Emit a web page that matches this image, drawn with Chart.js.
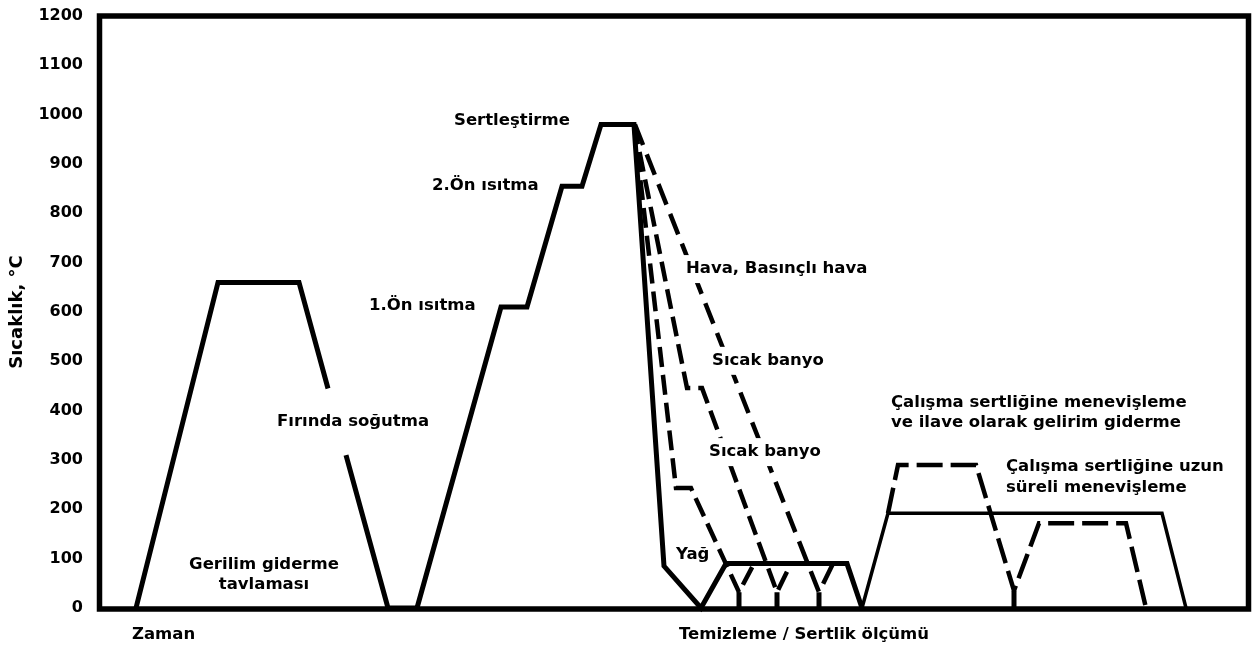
<!DOCTYPE html>
<html>
<head>
<meta charset="utf-8">
<script src="https://cdn.jsdelivr.net/npm/chart.js@4"></script>
<style>
  html, body { margin: 0; padding: 0; background: #fff; }
  #wrap { width: 1252px; height: 647px; }
</style>
</head>
<body>
<div id="wrap"><canvas id="myCanvas"></canvas></div>
<script>
// temperature axis ticks
const yTicks = [0, 100, 200, 300, 400, 500, 600, 700, 800, 900, 1000, 1100, 1200];

// stress relief anneal (time, °C)
const reliefX = [37, 119, 200, 229];
const reliefY = [0, 660, 660, 445];
const furnaceX = [247, 289, 318];
const furnaceY = [310, 0, 0];

// preheats + hardening + oil quench + cleaning + long tempering (solid)
const hardenX = [318, 402, 428, 463, 483, 502, 535, 565, 602, 627, 748, 763];
const hardenY = [0, 610, 610, 855, 855, 980, 980, 85, 0, 90, 90, 0];
const temperX = [763, 789, 1063, 1087];
const temperY = [0, 192, 192, 0];

// hot bath quenches (dashed)
const bathLowX = [535, 577, 592, 640, 655];
const bathLowY = [980, 243, 243, 32, 90];
const bathHighX = [535, 588, 603, 678, 692];
const bathHighY = [980, 446, 446, 32, 90];
// air / pressurised air (dashed)
const airX = [536, 720, 734];
const airY = [980, 32, 90];

// tempering + extra stress relief (dashed)
const temper2X = [789, 799, 877, 915, 940, 1027, 1047];
const temper2Y = [192, 290, 290, 35, 172, 172, 0];

// short solid stems where quench meets room temperature
const stemX = [640, 640, null, 678, 678, null, 720, 720, null, 915, 915];
const stemY = [32, 0, null, 32, 0, null, 32, 0, null, 35, 0];

function pts(xs, ys) {
  return xs.map(function(x, i) { return {x: x, y: ys[i]}; });
}

// text notes; knock = white box behind it (breaks the lines like the original)
const labels = [
  {t: 'Sertleştirme', x: 355, y: 987},
  {t: '2.Ön ısıtma', x: 333, y: 855},
  {t: '1.Ön ısıtma', x: 270, y: 612},
  {t: 'Fırında soğutma', x: 178, y: 377},
  {t: 'Gerilim giderme', x: 165, y: 87, c: true},
  {t: 'tavlaması', x: 165, y: 47, c: true},
  {t: 'Hava, Basınçlı hava', x: 587, y: 687, knock: true},
  {t: 'Sıcak banyo', x: 613, y: 501, knock: true},
  {t: 'Sıcak banyo', x: 610, y: 316, knock: true},
  {t: 'Yağ', x: 577, y: 107},
  {t: 'Çalışma sertliğine menevişleme', x: 792, y: 416},
  {t: 've ilave olarak gelirim giderme', x: 792, y: 375},
  {t: 'Çalışma sertliğine uzun', x: 907, y: 286},
  {t: 'süreli menevişleme', x: 907, y: 243},
  {t: 'Zaman', x: 33, y: -55},
  {t: 'Temizleme / Sertlik ölçümü', x: 580, y: -55}
];

function solid(xs, ys, w) {
  return {data: pts(xs, ys), borderColor: '#000', borderWidth: w, pointRadius: 0,
    tension: 0, borderJoinStyle: 'miter', clip: false, spanGaps: false};
}
function dashed(xs, ys, w, dash) {
  let d = solid(xs, ys, w);
  d.borderDash = dash;
  return d;
}

// frame + text annotations
const decor = {
  id: 'decor',
  afterDatasetsDraw(chart) {
    const ctx = chart.ctx, a = chart.chartArea;
    const xs = chart.scales.x, ys = chart.scales.y;
    ctx.save();
    ctx.strokeStyle = '#000';
    ctx.lineWidth = 5.5;
    ctx.strokeRect(a.left + 0.5, a.top, a.right - a.left, a.bottom - a.top + 1);
    ctx.font = "bold 16.5px 'DejaVu Sans'";
    ctx.textBaseline = 'middle';
    labels.forEach(function(l) {
      const px = xs.getPixelForValue(l.x), py = ys.getPixelForValue(l.y);
      ctx.textAlign = l.c ? 'center' : 'left';
      if (l.knock) {
        const w = ctx.measureText(l.t).width;
        ctx.fillStyle = '#fff';
        ctx.fillRect(px - 6, py - 14, w + 12, 28);
      }
      ctx.fillStyle = '#000';
      ctx.fillText(l.t, px, py);
    });
    ctx.restore();
  }
};

const chrt = document.getElementById('myCanvas');
const myChart = new Chart(chrt, {
  type: 'line',
  data: {
    datasets: [
      solid(reliefX, reliefY, 5),
      solid(furnaceX, furnaceY, 5),
      solid(hardenX, hardenY, 5),
      solid(temperX, temperY, 3.5),
      dashed(bathLowX, bathLowY, 4.5, [20, 8]),
      dashed(bathHighX, bathHighY, 4.5, [20, 8]),
      dashed(airX, airY, 4.5, [22, 10]),
      dashed(temper2X, temper2Y, 4.5, [26, 8]),
      solid(stemX, stemY, 5)
    ]
  },
  options: {
    responsive: true,
    maintainAspectRatio: false,
    animation: false,
    layout: {padding: {top: 16, right: 4, bottom: 39, left: 0}},
    plugins: {legend: {display: false}, tooltip: {enabled: false}},
    scales: {
      x: {type: 'linear', min: 0, max: 1149, display: false},
      y: {
        min: 0, max: 1200,
        afterBuildTicks: function(s) { s.ticks = yTicks.map(function(v) { return {value: v}; }); },
        afterFit: function(s) { s.width = 99; },
        // tick marks hidden, but their length keeps the labels 16px off the frame
        grid: {display: false, drawTicks: true, tickLength: 16},
        border: {display: false},
        ticks: {color: '#000', padding: 0, font: {family: 'DejaVu Sans', size: 16, weight: 'bold'},
          callback: function(v) { return String(v); }},
        title: {display: true, text: 'Sıcaklık, °C', color: '#000', padding: {top: 7, bottom: 0},
          font: {family: 'DejaVu Sans', size: 18, weight: 'bold'}}
      }
    }
  },
  plugins: [decor]
});
</script>
</body>
</html>
